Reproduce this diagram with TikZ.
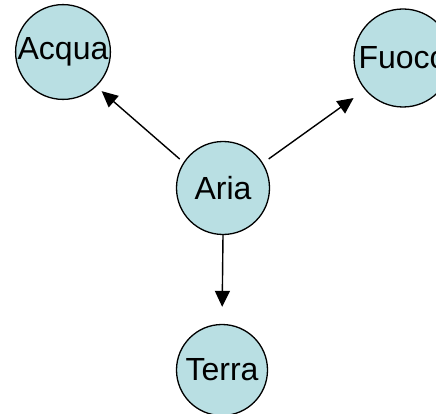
\documentclass[tikz,border=0pt]{standalone}
\usepackage{fontspec}
\setmainfont{Liberation Sans}
\usetikzlibrary{arrows.meta}
\definecolor{cfill}{RGB}{185,223,227}
\tikzset{
  elem/.style={circle, draw=black, line width=1.3pt, fill=cfill, inner sep=0pt,
    font=\fontsize{32}{32}\selectfont},
  conn/.style={line width=1.4pt, -{Triangle[length=16pt,width=15pt]}}
}
\begin{document}
\begin{tikzpicture}[x=1pt,y=-1pt]
\useasboundingbox (0,0) rectangle (436,414);
\clip (0,0) rectangle (436,414);
\fill[white] (0,0) rectangle (436,414);
\node[elem, minimum size=94pt] (acqua) at (63,52) {Acqua};
\node[elem, minimum size=98pt] (fuoco) at (403,58) {Fuoco};
\node[elem, minimum size=93pt] (aria) at (223,188) {Aria};
\node[elem, minimum size=91pt] (terra) at (222,370) {Terra};
\draw[conn, shorten <=5pt, shorten >=7pt] (aria.147) -- (acqua.-46);
\draw[conn, shorten <=7pt, shorten >=14pt] (aria.32) -- (fuoco.220);
\draw[conn, shorten >=17pt] (aria.south) -- (terra.north);
\end{tikzpicture}
\end{document}
